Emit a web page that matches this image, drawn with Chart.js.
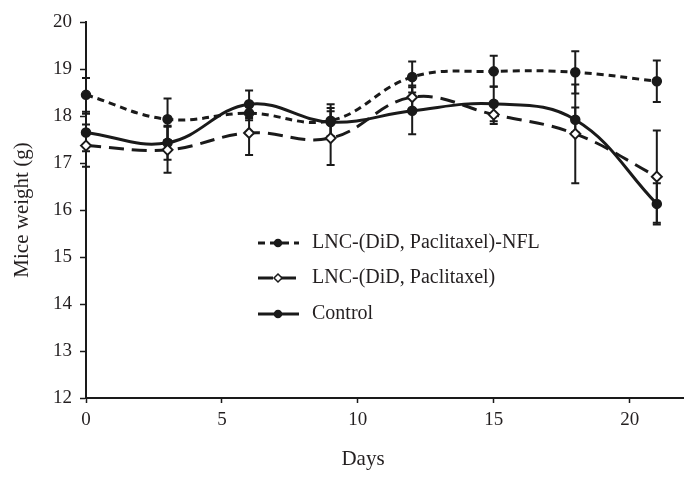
<!DOCTYPE html>
<html lang="en">
<head>
  <meta charset="UTF-8" />
  <title>Mice weight</title>
  <script src="https://cdn.jsdelivr.net/npm/chart.js@4.4.0/dist/chart.umd.min.js"></script>
  <style>
    body { margin: 0; background: #fff; }
    canvas { display: block; }
  </style>
</head>
<body>
  <canvas id="weightChart" width="684" height="477"></canvas>

  <script>
    // values
    const days = [0, 3, 6, 9, 12, 15, 18, 21];
    const nfl = [18.45, 17.93, 18.06, 17.90, 18.83, 18.95, 18.93, 18.74];
    const nflErr = [0.36, 0.44, 0.15, 0.35, 0.33, 0.33, 0.45, 0.44];
    const lnc = [17.37, 17.28, 17.64, 17.53, 18.40, 18.03, 17.62, 16.71];
    const lncErr = [0.45, 0.49, 0.47, 0.57, 0.25, 0.20, 1.05, 0.98];
    const control = [17.65, 17.43, 18.25, 17.87, 18.11, 18.26, 17.92, 16.13];
    const controlErr = [0.40, 0.36, 0.29, 0.30, 0.50, 0.37, 0.26, 0.44];
    const labels = ['LNC-(DiD, Paclitaxel)-NFL', 'LNC-(DiD, Paclitaxel)', 'Control'];
    const xTicks = [0, 5, 10, 15, 20];
    const yTicks = [12, 13, 14, 15, 16, 17, 18, 19, 20];

    const ink = '#1a1a1a';
    const serif = "'Liberation Serif', 'Times New Roman', serif";

    const pts = (vals) => vals.map((v, i) => ({ x: days[i], y: v }));

    // vertical error bars with caps
    const errorBars = {
      id: 'errorBars',
      beforeDatasetsDraw(chart) {
        const { ctx, scales: { x, y } } = chart;
        ctx.save();
        ctx.strokeStyle = ink;
        ctx.lineWidth = 2;
        ctx.setLineDash([]);
        chart.data.datasets.forEach(ds => {
          ds.data.forEach((p, i) => {
            const e = ds.errors[i];
            const px = x.getPixelForValue(p.x);
            const top = y.getPixelForValue(p.y + e);
            const bot = y.getPixelForValue(p.y - e);
            ctx.beginPath();
            ctx.moveTo(px, top); ctx.lineTo(px, bot);
            ctx.moveTo(px - 4, top); ctx.lineTo(px + 4, top);
            ctx.moveTo(px - 4, bot); ctx.lineTo(px + 4, bot);
            ctx.stroke();
          });
        });
        ctx.restore();
      }
    };

    // legend inside the plot + axis titles
    const extras = {
      id: 'extras',
      afterDraw(chart) {
        const { ctx } = chart;
        ctx.save();
        const rows = [243, 278, 314];
        chart.data.datasets.forEach((ds, i) => {
          const yy = rows[i];
          ctx.strokeStyle = ink;
          ctx.lineWidth = 3;
          ctx.setLineDash(ds.borderDash || []);
          ctx.beginPath();
          ctx.moveTo(258, yy); ctx.lineTo(299, yy);
          ctx.stroke();
          ctx.setLineDash([]);
          ctx.lineWidth = 1.5;
          ctx.fillStyle = ds.pointBackgroundColor;
          ctx.beginPath();
          if (ds.pointStyle === 'rectRot') {
            ctx.moveTo(278, yy - 4); ctx.lineTo(282, yy); ctx.lineTo(278, yy + 4); ctx.lineTo(274, yy);
            ctx.closePath();
          } else {
            ctx.arc(278, yy, 3.5, 0, Math.PI * 2);
          }
          ctx.fill();
          ctx.stroke();
          ctx.fillStyle = '#231f20';
          ctx.font = '20px ' + serif;
          ctx.textBaseline = 'middle';
          ctx.textAlign = 'left';
          ctx.fillText(ds.label, 312, yy);
        });

        ctx.fillStyle = '#231f20';
        ctx.font = '21px ' + serif;
        ctx.textAlign = 'center';
        ctx.textBaseline = 'middle';
        ctx.fillText('Days', 363, 459);
        ctx.translate(22, 210);
        ctx.rotate(-Math.PI / 2);
        ctx.fillText('Mice weight (g)', 0, 0);
        ctx.restore();
      }
    };

    const ctx = document.getElementById('weightChart').getContext('2d');
    new Chart(ctx, {
      type: 'line',
      data: {
        datasets: [
          {
            label: labels[0],
            data: pts(nfl),
            errors: nflErr,
            borderColor: ink,
            borderWidth: 3,
            borderDash: [7, 5],
            pointStyle: 'circle',
            pointRadius: 4.5,
            pointBackgroundColor: ink,
            pointBorderColor: ink,
            pointBorderWidth: 1.5,
            tension: 0.4,
            clip: false
          },
          {
            label: labels[1],
            data: pts(lnc),
            errors: lncErr,
            borderColor: ink,
            borderWidth: 3,
            borderDash: [15, 8],
            pointStyle: 'rectRot',
            pointRadius: 5,
            pointBackgroundColor: '#fff',
            pointBorderColor: ink,
            pointBorderWidth: 2,
            tension: 0.4,
            clip: false
          },
          {
            label: labels[2],
            data: pts(control),
            errors: controlErr,
            borderColor: ink,
            borderWidth: 3,
            pointStyle: 'circle',
            pointRadius: 4.5,
            pointBackgroundColor: ink,
            pointBorderColor: ink,
            pointBorderWidth: 1.5,
            tension: 0.4,
            clip: false
          }
        ]
      },
      options: {
        responsive: false,
        animation: false,
        layout: { autoPadding: false, padding: { top: 22, right: 0, left: 0, bottom: 0 } },
        plugins: {
          legend: { display: false },
          tooltip: { enabled: false }
        },
        scales: {
          x: {
            type: 'linear',
            min: 0,
            max: 22,
            afterBuildTicks: (s) => { s.ticks = xTicks.map(v => ({ value: v })); },
            afterFit: (s) => { s.height = 79; s.paddingRight = 0; s.paddingLeft = 0; },
            grid: { drawOnChartArea: false, tickLength: 5, tickColor: ink, tickWidth: 1.5 },
            border: { color: ink, width: 2 },
            ticks: { color: '#231f20', font: { family: serif, size: 19 }, padding: 6, maxRotation: 0 }
          },
          y: {
            min: 12,
            max: 20,
            afterBuildTicks: (s) => { s.ticks = yTicks.map(v => ({ value: v })); },
            afterFit: (s) => { s.width = 86; },
            grid: { drawOnChartArea: false, tickLength: 6, tickColor: ink, tickWidth: 1.5 },
            border: { color: ink, width: 2 },
            ticks: { color: '#231f20', font: { family: serif, size: 19 }, padding: 8 }
          }
        }
      },
      plugins: [errorBars, extras]
    });
  </script>
</body>
</html>
